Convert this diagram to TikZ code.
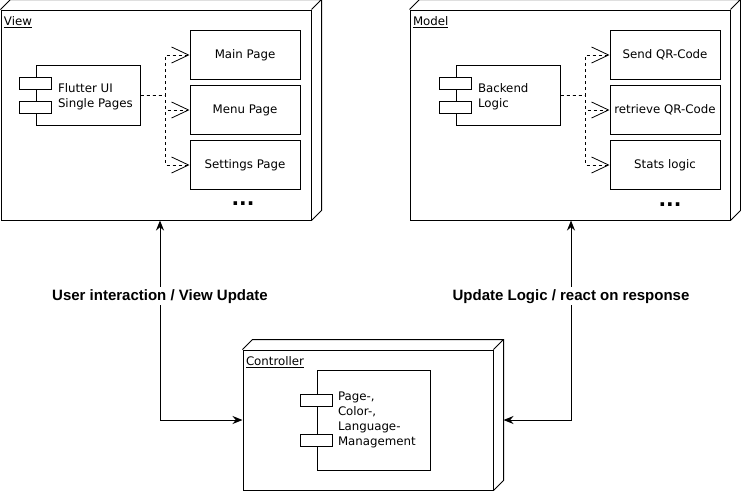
\documentclass[tikz,border=0pt]{standalone}
\usepackage{fontspec}
\setmainfont{DejaVu Sans}
\newfontfamily\lblfont{Liberation Sans}
\usetikzlibrary{arrows.meta, positioning, calc}

\newcommand\boxfont{\fontsize{11.8}{15}\selectfont}
\newcommand\flowfont{\lblfont\bfseries\fontsize{15}{17}\selectfont}

\begin{document}
\begin{tikzpicture}[x=1pt, y=-1pt, line width=1pt,
    nodebox/.style={draw, inner sep=0pt},
    comp/.style={draw, fill=white, minimum width=104, minimum height=60, inner sep=0pt},
    compport/.style={draw, fill=white, minimum width=32, minimum height=12, inner sep=0pt},
    complabel/.style={anchor=west, align=left, font=\boxfont, inner sep=0pt},
    pagebox/.style={draw, minimum width=110, minimum height=49, inner sep=1pt, font=\boxfont},
    title/.style={anchor=north west, inner sep=1pt, font=\boxfont},
    dep/.style={dashed, line width=0.8pt, -{Straight Barb[length=17pt, width=16pt, line width=0.8pt]}},
    flow/.style={{Stealth[length=10pt, width=8pt]}-{Stealth[length=10pt, width=8pt]}},
    flowlabel/.style={fill=white, inner sep=2pt, font=\flowfont},
    more/.style={inner sep=0pt, font=\bfseries\fontsize{20}{20}\selectfont}]
  \useasboundingbox (0,0) rectangle (741,491);

  % the three packages
  \node[nodebox, minimum width=310, minimum height=210] (view)  at (156,115) {};
  \node[nodebox, minimum width=320, minimum height=210] (model) at (570,115) {};
  \node[nodebox, minimum width=250, minimum height=140] (ctrl)  at (368,420) {};
  \foreach \n in {view, model, ctrl}
    \draw (\n.north west) -- ++(10,-10) -| ($(\n.south east)+(10,-10)$) -- (\n.south east)
          (\n.north east) -- ++(10,-10);
  \node[title] at ([shift={(2,6)}]view.north west)  {\underline{View}};
  \node[title] at ([shift={(2,6)}]model.north west) {\underline{Model}};
  \node[title] at ([shift={(2,6)}]ctrl.north west)  {\underline{Controller}};

  % view
  \node[comp] (flutter) at (88,95) {};
  \node[compport] at ([yshift=12]flutter.west) {};
  \node[compport] at ([yshift=-12.5]flutter.west) {};
  \node[complabel] at ([shift={(22,2)}]flutter.west) {Flutter UI\\Single Pages};
  \node[pagebox] (mainpg) at (245,55) {Main Page};
  \node[pagebox, below=5pt of mainpg] (menupg) {Menu Page};
  \node[pagebox, below=5pt of menupg] (setpg)  {Settings Page};
  \foreach \p in {mainpg, menupg, setpg}
    \draw[dep] (flutter.east) -- ++(25,0) |- (\p.west);
  \node[more] at (243,204) {...};

  % model
  \node[comp] (backend) at (508,95) {};
  \node[compport] at ([yshift=12]backend.west) {};
  \node[compport] at ([yshift=-12.5]backend.west) {};
  \node[complabel] at ([shift={(22,2)}]backend.west) {Backend\\Logic};
  \node[pagebox] (sendqr) at (665,55) {Send QR-Code};
  \node[pagebox, below=5pt of sendqr] (getqr) {retrieve QR-Code};
  \node[pagebox, below=5pt of getqr]  (stats) {Stats logic};
  \foreach \p in {sendqr, getqr, stats}
    \draw[dep] (backend.east) -- ++(25,0) |- (\p.west);
  \node[more] at (670,205) {...};

  % controller
  \node[draw, minimum width=113, minimum height=100] (mgmt) at (373.5,420) {};
  \node[compport] at ([yshift=20]mgmt.west) {};
  \node[compport] at ([yshift=-20]mgmt.west) {};
  \node[complabel] at ([xshift=21]mgmt.west) {Page-,\\Color-,\\Language-\\Management};

  % interactions
  \draw[flow] ([xshift=4]view.south) |- node[flowlabel, pos=0.19] {User interaction / View Update} (ctrl.west);
  \draw[flow] ([xshift=1]model.south) |- node[flowlabel, pos=0.19] {Update Logic / react on response} ([xshift=10]ctrl.east);
\end{tikzpicture}
\end{document}
